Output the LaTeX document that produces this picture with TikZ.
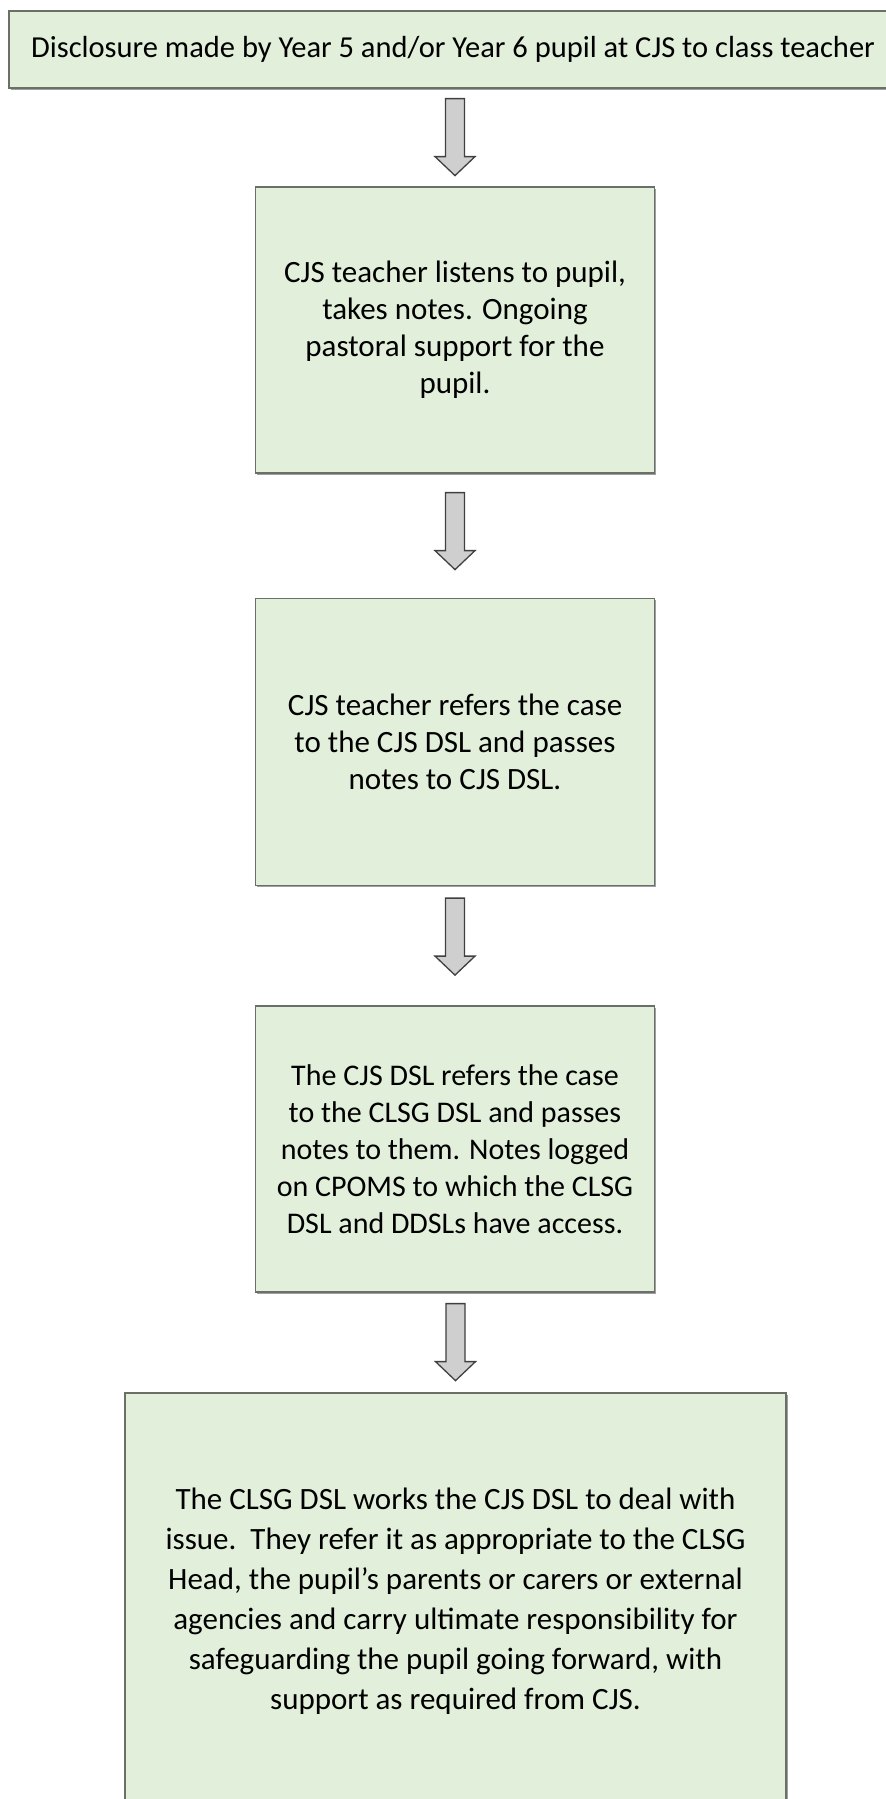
\documentclass[tikz,border=0pt]{standalone}
\usepackage{fontspec}
\setmainfont{Carlito}
\usetikzlibrary{calc,shadows}
\definecolor{boxgreen}{HTML}{E2EFDA}
\definecolor{boxline}{HTML}{6A7067}
\definecolor{arrowfill}{HTML}{CFCFCF}
\definecolor{arrowline}{HTML}{404040}
\tikzset{
  flowbox/.style={draw=boxline, line width=1.2pt, fill=boxgreen, rectangle, align=center,
    inner sep=0pt, text=black,
    drop shadow={shadow xshift=1.6pt, shadow yshift=-1.6pt, fill=gray!75, opacity=1},
    font=\fontsize{31}{37}\selectfont},
  garrowstyle/.style={draw=arrowline, line width=1.3pt, fill=arrowfill, line join=miter}
}
\newcommand\garrow[3]{%
  \draw[garrowstyle] let \p1=(#1.south), \p2=(#2.north) in
    (\x2-9.5pt,\y1-#3pt) -- (\x2+9.5pt,\y1-#3pt) -- (\x2+9.5pt,\y1-#3pt-58pt)
    -- (\x2+20pt,\y1-#3pt-58pt) -- (\x2,\y1-#3pt-77pt) -- (\x2-20pt,\y1-#3pt-58pt)
    -- (\x2-9.5pt,\y1-#3pt-58pt) -- cycle;}
\begin{document}
\begin{tikzpicture}[x=1pt,y=-1pt]
\useasboundingbox[fill=white] (0,0) rectangle (886,1799);
\node[flowbox, minimum width=888pt, minimum height=77pt, font=\fontsize{30.5}{37}\selectfont] (top) at (453,49.5)
  {Disclosure made by Year 5 and/or Year 6 pupil at CJS to class teacher};
\node[flowbox, minimum width=399pt, minimum height=286pt] (b2) at (455,330)
  {CJS teacher listens to pupil,\\ takes notes. Ongoing\\ pastoral support for the\\ pupil.};
\node[flowbox, minimum width=399pt, minimum height=287pt] (b3) at (455,742)
  {CJS teacher refers the case\\ to the CJS DSL and passes\\ notes to CJS DSL.};
\node[flowbox, minimum width=399pt, minimum height=286pt, font=\fontsize{30}{37}\selectfont] (b4) at (455,1149)
  {The CJS DSL refers the case\\ to the CLSG DSL and passes\\ notes to them. Notes logged\\ on CPOMS to which the CLSG\\ DSL and DDSLs have access.};
\node[flowbox, minimum width=661pt, minimum height=416pt, font=\fontsize{31}{40}\selectfont] (b5) at (455.5,1601)
  {The CLSG DSL works the CJS DSL to deal with\\ issue.\ \ They refer it as appropriate to the CLSG\\ Head, the pupil’s parents or carers or external\\ agencies and carry ultimate responsibility for\\ safeguarding the pupil going forward, with\\ support as required from CJS.};
\garrow{top}{b2}{10}
\garrow{b2}{b3}{19}
\garrow{b3}{b4}{12}
\garrow{b4}{b5}{11}
\end{tikzpicture}
\end{document}
